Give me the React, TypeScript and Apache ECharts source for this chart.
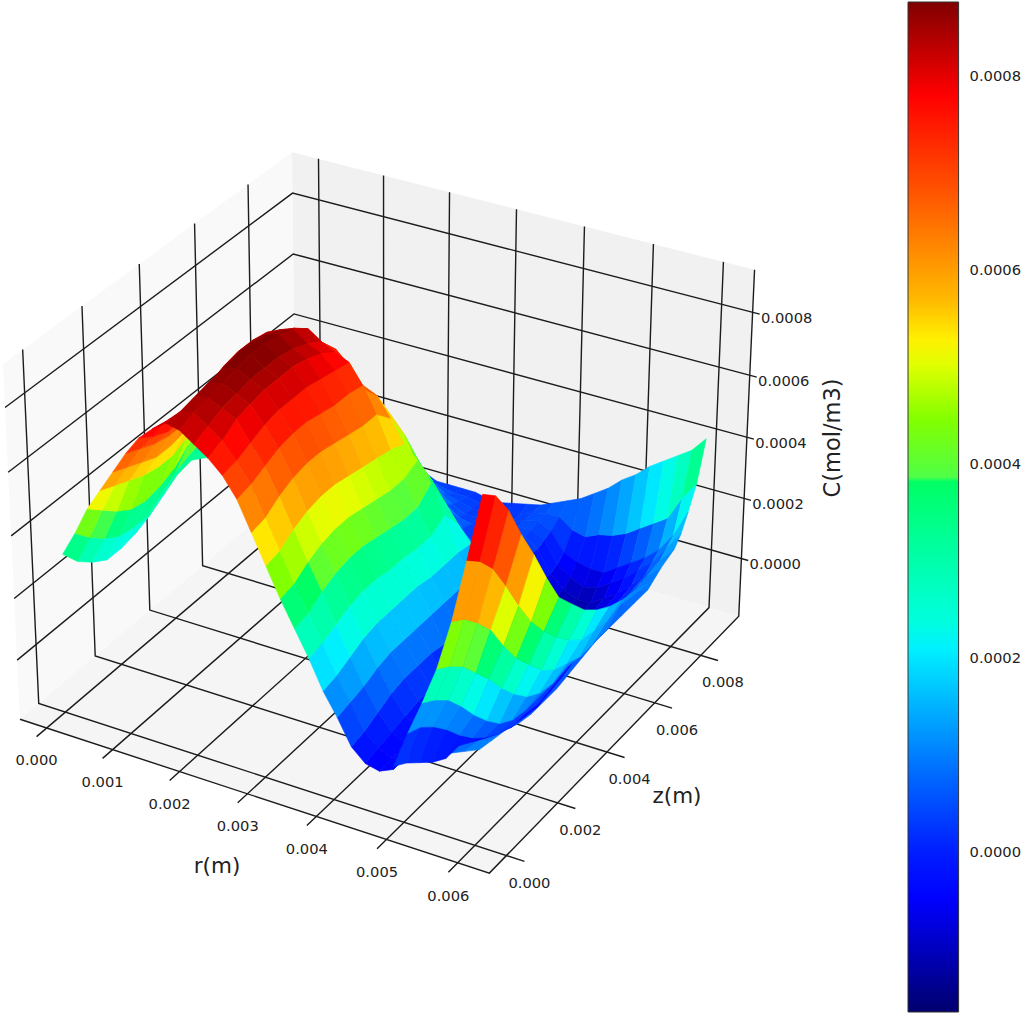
import { useEffect, useRef } from "react";
import * as echarts from "echarts";

// radial and axial positions of the mesh, metres
const rGrid = [0, 0.0002, 0.0004, 0.0006, 0.0008, 0.001, 0.0012, 0.0014, 0.0016, 0.0018, 0.002, 0.0022, 0.0024, 0.0026, 0.0028, 0.003, 0.0032, 0.0034, 0.0036, 0.0038, 0.004, 0.0042, 0.0044, 0.0046, 0.0048, 0.005, 0.0052, 0.0054, 0.0056, 0.0058, 0.006];
const zGrid = [0.00013, 0.00062, 0.00112, 0.00162, 0.00213, 0.00264, 0.00315, 0.00367, 0.0042, 0.00472, 0.00526, 0.0058, 0.00634, 0.00689, 0.00744, 0.008, 0.00828, 0.00856, 0.0089, 0.00925];

// concentration, in 1e-5 mol/m3, one row per rGrid entry
const surfaceValues = [
  [31, 25, 21, 18, 18, 19, 21, 24, 27, 28, 25, 20, 17, 15, 14, 13, 13, 13, 13, 13],
  [39, 34, 30, 27, 26, 26, 30, 33, 35, 36, 34, 30, 26, 23, 20, 18, 17, 16, 15, 15],
  [48, 44, 40, 37, 36, 37, 39, 43, 45, 45, 43, 39, 34, 30, 26, 22, 21, 19, 18, 17],
  [55, 53, 51, 49, 48, 48, 50, 52, 54, 55, 54, 50, 45, 40, 34, 28, 25, 23, 21, 19],
  [62, 60, 58, 56, 56, 57, 59, 61, 63, 64, 62, 58, 52, 46, 39, 32, 28, 24, 21, 18],
  [69, 67, 65, 64, 64, 66, 68, 70, 72, 72, 68, 62, 56, 48, 40, 32, 27, 23, 19, 16],
  [75, 72, 70, 70, 71, 72, 74, 76, 77, 75, 70, 64, 58, 50, 41, 32, 27, 22, 18, 14],
  [79, 78, 77, 78, 79, 81, 82, 82, 81, 78, 72, 60, 48, 38, 29, 21, 15, 10, 6, 4],
  [82, 82, 83, 84, 85, 86, 86, 85, 83, 80, 75, 66, 52, 40, 31, 21, 15, 10, 6, 4],
  [81, 83, 84, 85, 86, 87, 87, 86, 84, 81, 73, 63, 50, 38, 29, 20, 14, 9, 4, 3],
  [78, 80, 82, 83, 84, 84, 84, 83, 81, 78, 72, 62, 48, 37, 29, 19, 13, 8, 4, 1],
  [75, 77, 80, 81, 82, 82, 82, 81, 79, 76, 68, 56, 44, 35, 26, 16, 11, 7, 3, 1],
  [71, 72, 74, 76, 77, 77, 77, 76, 75, 74, 62, 50, 42, 33, 23, 12, 7, 4, 2, 1],
  [65, 66, 68, 70, 71, 71, 70, 69, 69, 68, 61, 51, 39, 28, 18, 6, 4, 3, 2, 1],
  [56, 57, 60, 62, 63, 63, 62, 61, 60, 60, 55, 46, 34, 22, 11, 3, 2, 2, 1, 0],
  [47, 48, 51, 53, 54, 54, 53, 52, 51, 50, 48, 37, 26, 14, 4, 2, 2, 1, 1, 0],
  [38, 39, 42, 44, 45, 45, 44, 43, 42, 42, 44, 34, 22, 10, 2, 1, 1, 1, 1, 1],
  [30, 31, 34, 36, 37, 37, 36, 35, 34, 34, 38, 28, 13, 5, 2, 1, 1, 1, 1, 2],
  [22, 23, 25, 27, 28, 28, 27, 27, 26, 26, 29, 22, 10, 5, 3, 3, 3, 3, 3, 3],
  [13, 14, 16, 18, 19, 19, 19, 19, 18, 18, 18, 17, 10, 5, 3, 3, 3, 4, 4, 5],
  [6, 7, 8, 10, 11, 11, 11, 11, 11, 11, 11, 9, 6, 3, 1, 0, 1, 2, 4, 7],
  [-2, -1, 1, 3, 4, 4, 4, 3, 3, 3, 2, 0, -2, -4, -6, -7, -6, -4, 1, 9],
  [-6, -5, -4, -3, -2, -2, -3, -4, -5, -6, -7, -8, -9, -10, -11, -11, -9, -6, 0, 12],
  [-7, -7, -6, -5, -5, -5, -6, -7, -8, -9, -10, -11, -12, -13, -13, -13, -11, -7, 2, 15],
  [-5, -5, -5, -5, -5, -6, -7, -8, -9, -10, -11, -12, -13, -13, -13, -13, -10, -7, 3, 19],
  [1, 0, -1, -2, -3, -4, -5, -7, -8, -9, -10, -11, -12, -12, -11, -10, -7, -4, 5, 22],
  [2, 1, 0, -1, -2, -3, -4, -5, -6, -7, -8, -9, -9, -9, -8, -7, -4, -1, 8, 26],
  [4, 3, 2, 1, 0, -1, -2, -3, -4, -4, -5, -6, -6, -5, -4, -3, 0, 2, 11, 29],
  [6, 5, 4, 3, 2, 1, 1, 0, 0, 0, 0, -1, -1, 0, 1, 2, 4, 6, 14, 32],
  [8, 7, 6, 5, 4, 3, 3, 3, 4, 4, 4, 4, 5, 6, 7, 8, 10, 12, 22, 35],
  [10, 9, 8, 6, 5, 5, 5, 6, 7, 8, 8, 8, 8, 8, 11, 13, 16, 21, 28, 40],
];

// the steep front ridge, drawn on top of the valley; first row is r = 0.0048
const ridgeFirstRow = 24;
const ridgeHeights = [
  [-4, -7, -11, -15, -18, -18, -21, -24, -26, -29, -30, -31, -30, -29],
  [8, 6, 2, -3, -9, -14, -18, -21, -23, -23, -24, -23, -22, -21],
  [19, 16, 12, 6, -1, -7, -12, -15, -16, -16, -16, -15, -14, -13],
  [31, 28, 24, 18, 12, 5, -1, -6, -9, -10, -9, -7, -6, -6],
  [47, 44, 39, 33, 24, 16, 10, 4, 0, -2, -4, -4, -4, 0],
  [67, 63, 57, 48, 38, 29, 22, 16, 11, 7, 6, 5, 6, 5],
  [88, 84, 76, 65, 55, 44, 34, 28, 22, 18, 15, 13, 12, 10],
];
const ridgeColours = [
  [2, 1, 0, -1, -2, -2, -3, -3, -3, -3, -3, -3, -3],
  [12, 12, 11, 10, 8, 6, 4, 3, 3, 3, 3, 3, 3],
  [28, 28, 26, 23, 20, 17, 14, 11, 9, 7, 6, 5, 5],
  [44, 42, 40, 36, 31, 26, 22, 19, 16, 13, 10, 7, 6],
  [60, 60, 57, 50, 43, 37, 30, 25, 20, 17, 14, 10, 9],
  [78, 74, 68, 60, 52, 44, 36, 30, 25, 20, 15, 12, 11],
];

const rTicks = [0, 0.001, 0.002, 0.003, 0.004, 0.005, 0.006];
const zTicks = [0, 0.002, 0.004, 0.006, 0.008];
const cTicks = [0, 0.0002, 0.0004, 0.0006, 0.0008];

// colour scale of the bar, 1e-5 mol/m3 against rgb
const scaleValues = [-16.6, -5, 0, 7.3, 15.6, 20.8, 23.9, 30, 38.1, 38.6, 44.5, 50.2, 52.8, 56.9, 67.3, 78, 87.6];
const scaleColours = [
  [0, 0, 110], [0, 0, 255], [0, 30, 255], [0, 100, 255], [0, 185, 255], [0, 240, 255], [0, 255, 220], [0, 255, 170], [0, 255, 100],
  [80, 255, 70], [130, 255, 0], [225, 255, 0], [255, 240, 0], [255, 185, 0], [255, 90, 0], [255, 0, 0], [128, 0, 0],
];

const font = "DejaVu Sans";
const rLim = [-0.00041, 0.00644];
const zLim = [-0.00065, 0.0097];
const cLim = [-0.000195, 0.000933];

const box = [1.19, 1.19, 0.893];
const eyeDist = 10;
const uAxis = [0.866, 0.5, 0];
const vAxis = [-0.25, 0.433, 0.866];
const nAxis = [0.433, -0.75, 0.5];

function project(r: number, z: number, c: number): number[] {
  const p = [
    ((r - rLim[0]) / (rLim[1] - rLim[0]) - 0.5) * box[0],
    ((z - zLim[0]) / (zLim[1] - zLim[0]) - 0.5) * box[1],
    ((c - cLim[0]) / (cLim[1] - cLim[0]) - 0.5) * box[2],
  ];
  const dot = (a: number[]) => a[0] * p[0] + a[1] * p[1] + a[2] * p[2];
  const w = eyeDist - dot(nAxis);
  return [386 + (4519 * dot(uAxis)) / w, 495.3 - (4535 * dot(vAxis)) / w, w];
}

function colourOf(v: number): string {
  const n = scaleValues.length;
  if (v <= scaleValues[0]) return `rgb(${scaleColours[0].join(",")})`;
  if (v >= scaleValues[n - 1]) return `rgb(${scaleColours[n - 1].join(",")})`;
  let i = 0;
  while (v > scaleValues[i + 1]) i++;
  const t = (v - scaleValues[i]) / (scaleValues[i + 1] - scaleValues[i]);
  const mix = scaleColours[i].map((a, k) => Math.round(a + (scaleColours[i + 1][k] - a) * t));
  return `rgb(${mix.join(",")})`;
}

type Poly = { points: number[][]; fill: string };

function buildSurface(): Poly[] {
  const faces: (Poly & { depth: number })[] = [];
  for (let i = 0; i < rGrid.length - 1; i++) {
    for (let j = 0; j < zGrid.length - 1; j++) {
      const corners = [
        [i, j],
        [i + 1, j],
        [i + 1, j + 1],
        [i, j + 1],
      ];
      const pts = corners.map(([a, b]) => project(rGrid[a], zGrid[b], surfaceValues[a][b] * 1e-5));
      const mean = corners.reduce((s, [a, b]) => s + surfaceValues[a][b], 0) / 4;
      faces.push({
        points: pts.map((p) => [p[0], p[1]]),
        fill: colourOf(mean + 1.5),
        depth: pts.reduce((s, p) => s + p[2], 0),
      });
    }
  }
  faces.sort((a, b) => b.depth - a.depth);
  return faces;
}

function buildRidge(): Poly[] {
  const faces: Poly[] = [];
  for (let i = 0; i < ridgeColours.length; i++) {
    for (let j = 0; j < ridgeColours[i].length; j++) {
      const corners = [
        [i, j],
        [i + 1, j],
        [i + 1, j + 1],
        [i, j + 1],
      ];
      const pts = corners.map(([a, b]) => project(rGrid[ridgeFirstRow + a], zGrid[b], ridgeHeights[a][b] * 1e-5));
      faces.push({ points: pts.map((p) => [p[0], p[1]]), fill: colourOf(ridgeColours[i][j]) });
    }
  }
  return faces;
}

function buildPanes(): Poly[] {
  const [r0, r1] = rLim;
  const [z0, z1] = zLim;
  const [c0, c1] = cLim;
  const flat = (list: number[][]) => list.map(([r, z, c]) => project(r, z, c).slice(0, 2));
  return [
    { points: flat([[r0, z0, c0], [r0, z1, c0], [r0, z1, c1], [r0, z0, c1]]), fill: "#f9f9f9" },
    { points: flat([[r0, z1, c0], [r1, z1, c0], [r1, z1, c1], [r0, z1, c1]]), fill: "#f1f1f1" },
    { points: flat([[r0, z0, c0], [r1, z0, c0], [r1, z1, c0], [r0, z1, c0]]), fill: "#f5f5f5" },
  ];
}

function buildLines(): number[][][] {
  const [r0, r1] = rLim;
  const [z0, z1] = zLim;
  const [c0, c1] = cLim;
  const lines: number[][][] = [];
  const add = (...list: number[][]) => lines.push(list.map(([r, z, c]) => project(r, z, c).slice(0, 2)));
  rTicks.forEach((r) => {
    add([r, z1, c1], [r, z1, c0], [r, z0 - 0.00035, c0]);
  });
  zTicks.forEach((z) => {
    add([r0, z, c1], [r0, z, c0], [r1 + 0.00025, z, c0]);
  });
  cTicks.forEach((c) => {
    add([r0, z0, c], [r0, z1, c], [r1 + 0.0001, z1, c]);
  });
  add([r0, z0, c0], [r1, z0, c0], [r1, z1, c0], [r1, z1, c1]);
  return lines;
}

type Label = { text: string; x: number; y: number; size: number; rotate?: number };

function buildLabels(): Label[] {
  const labels: Label[] = [];
  rTicks.forEach((r) => {
    const p = project(r, zLim[0] - 0.00035, cLim[0]);
    labels.push({ text: r.toFixed(3), x: p[0], y: p[1] + 23, size: 14.7 });
  });
  zTicks.forEach((z) => {
    const p = project(rLim[1] + 0.00025, z, cLim[0]);
    labels.push({ text: z.toFixed(3), x: p[0] + 5, y: p[1] + 21, size: 14.7 });
  });
  cTicks.forEach((c) => {
    const p = project(rLim[1] + 0.0001, zLim[1], c);
    labels.push({ text: c.toFixed(4), x: p[0] + 27, y: p[1] + 3, size: 14.7 });
  });
  labels.push({ text: "r(m)", x: 217, y: 865, size: 21.5 });
  labels.push({ text: "z(m)", x: 677, y: 795, size: 21.5 });
  labels.push({ text: "C(mol/m3)", x: 832, y: 438, size: 22.5, rotate: Math.PI / 2 });
  return labels;
}

export default function App() {
  const chartRef = useRef<HTMLDivElement>(null);

  useEffect(() => {
    if (!chartRef.current) return;
    const chart = echarts.init(chartRef.current, null, { renderer: "svg" });

    const polys = [...buildPanes(), ...buildSurface(), ...buildRidge()];
    const lines = buildLines();
    const labels = buildLabels();
    const panesCount = 3;
    const barMin = scaleValues[0] * 1e-5;
    const barMax = scaleValues[scaleValues.length - 1] * 1e-5;
    const barStops = scaleValues.map((v, i) => ({
      offset: (v - scaleValues[0]) / (scaleValues[scaleValues.length - 1] - scaleValues[0]),
      color: `rgb(${scaleColours[i].join(",")})`,
    }));

    chart.setOption({
      animation: false,
      backgroundColor: "#ffffff",
      grid: [
        { left: 0, top: 0, width: 1024, height: 1014 },
        { left: 908, top: 2, width: 51, height: 1010 },
      ],
      xAxis: [
        { type: "value", gridIndex: 0, min: 0, max: 1024, show: false },
        { type: "value", gridIndex: 1, min: 0, max: 1, show: false },
      ],
      yAxis: [
        { type: "value", gridIndex: 0, min: 0, max: 1014, inverse: true, show: false },
        {
          type: "value",
          gridIndex: 1,
          min: barMin,
          max: barMax,
          position: "right",
          splitLine: { show: false },
          axisLine: { show: false },
          axisTick: { show: true, length: 5, customValues: cTicks, lineStyle: { color: "#222222" } },
          axisLabel: {
            customValues: cTicks,
            margin: 11,
            fontSize: 14.7,
            fontFamily: font,
            color: "#222222",
            formatter: (v: number) => v.toFixed(4),
          },
        },
      ],
      series: [
        {
          type: "custom",
          name: "panes",
          silent: true,
          xAxisIndex: 0,
          yAxisIndex: 0,
          clip: false,
          z: 1,
          data: polys.slice(0, panesCount).map((_, i) => [i]),
          renderItem: (params: any, api: any) => ({
            type: "polygon",
            shape: { points: polys[params.dataIndex].points.map((p) => api.coord(p)) },
            style: { fill: polys[params.dataIndex].fill },
          }),
        },
        {
          type: "custom",
          name: "grid lines",
          silent: true,
          xAxisIndex: 0,
          yAxisIndex: 0,
          clip: false,
          z: 2,
          data: lines.map((_, i) => [i]),
          renderItem: (params: any, api: any) => ({
            type: "polyline",
            shape: { points: lines[params.dataIndex].map((p) => api.coord(p)) },
            style: { stroke: "#1c1c1c", lineWidth: 1.4, fill: "none" },
          }),
        },
        {
          type: "custom",
          name: "C(r,z)",
          silent: true,
          xAxisIndex: 0,
          yAxisIndex: 0,
          clip: false,
          z: 3,
          data: polys.slice(panesCount).map((_, i) => [i]),
          renderItem: (params: any, api: any) => {
            const face = polys[panesCount + params.dataIndex];
            return {
              type: "polygon",
              shape: { points: face.points.map((p) => api.coord(p)) },
              style: { fill: face.fill, stroke: face.fill, lineWidth: 0.6 },
            };
          },
        },
        {
          type: "custom",
          name: "labels",
          silent: true,
          xAxisIndex: 0,
          yAxisIndex: 0,
          clip: false,
          z: 4,
          data: labels.map((_, i) => [i]),
          renderItem: (params: any, api: any) => {
            const l = labels[params.dataIndex];
            const at = api.coord([l.x, l.y]);
            return {
              type: "text",
              x: at[0],
              y: at[1],
              rotation: l.rotate || 0,
              style: {
                text: l.text,
                fontFamily: font,
                fontSize: l.size,
                fill: "#222222",
                align: "center",
                verticalAlign: "middle",
              },
            };
          },
        },
        {
          type: "custom",
          name: "colour bar",
          silent: true,
          xAxisIndex: 1,
          yAxisIndex: 1,
          clip: false,
          z: 3,
          data: [[0]],
          renderItem: (_: any, api: any) => {
            const a = api.coord([0, barMax]);
            const b = api.coord([1, barMin]);
            return {
              type: "rect",
              shape: { x: a[0], y: a[1], width: b[0] - a[0], height: b[1] - a[1] },
              style: {
                fill: new echarts.graphic.LinearGradient(0, 1, 0, 0, barStops),
                stroke: "#333333",
                lineWidth: 1,
              },
            };
          },
        },
      ],
    });

    return () => {
      chart.dispose();
    };
  }, []);

  return <div ref={chartRef} style={{ position: "absolute", left: 0, top: 0, width: 1024, height: 1014 }} />;
}
